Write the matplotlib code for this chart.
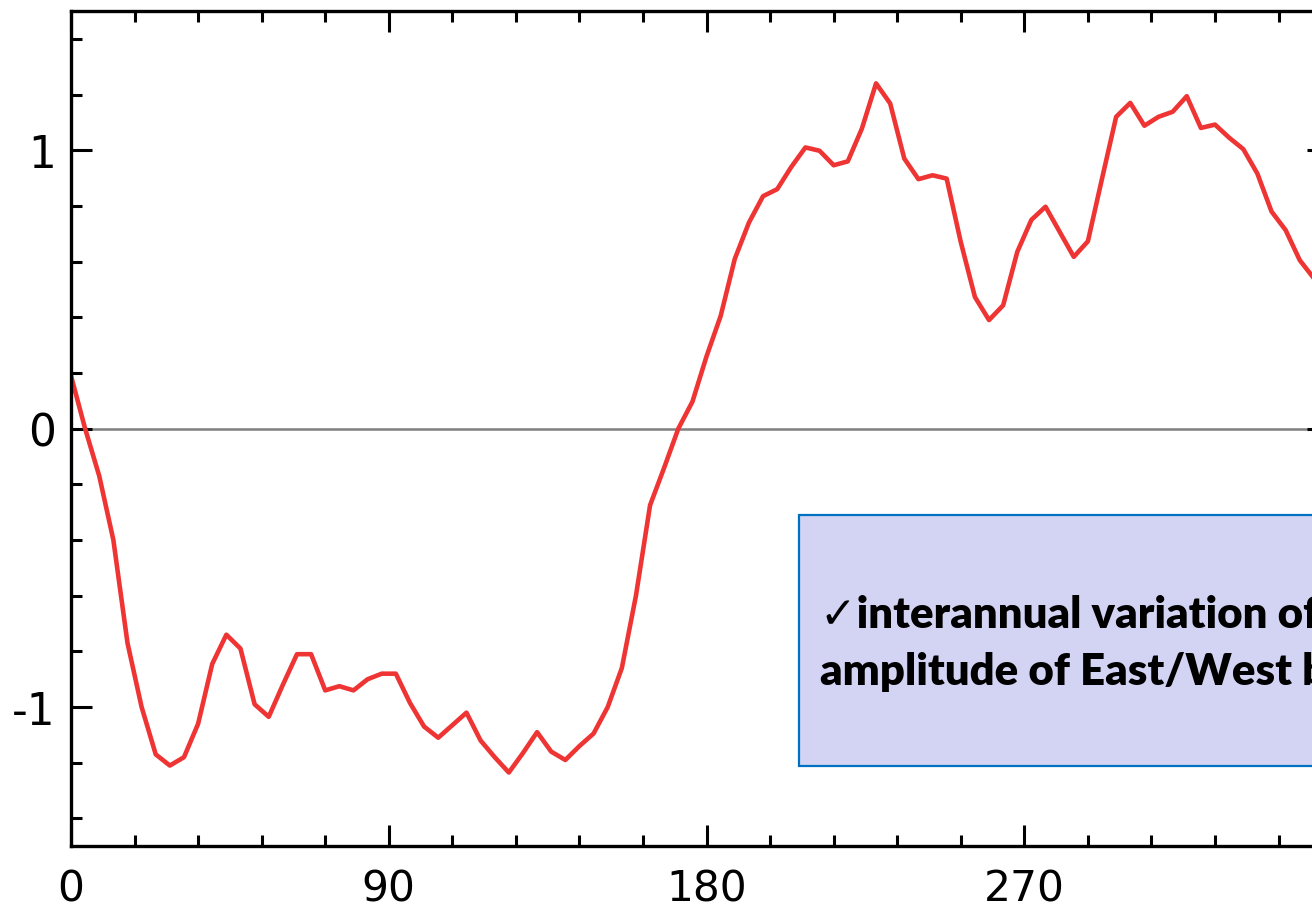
import matplotlib
matplotlib.use('Agg')
import matplotlib.pyplot as plt
from matplotlib.patches import Rectangle
from matplotlib.ticker import MultipleLocator
import numpy as np

# longitude (every 4 deg) and index values
lon = np.arange(0, 360, 4)
index = [0.19, 0.00, -0.17, -0.40, -0.77, -1.00, -1.17, -1.21, -1.18, -1.06,
         -0.845, -0.74, -0.79, -0.99, -1.035, -0.92, -0.81, -0.81, -0.94, -0.925,
         -0.94, -0.90, -0.88, -0.88, -0.985, -1.07, -1.11, -1.065, -1.02, -1.12,
         -1.18, -1.235, -1.165, -1.09, -1.16, -1.19, -1.14, -1.095, -1.00, -0.86,
         -0.60, -0.275, -0.14, 0.00, 0.097, 0.26, 0.405, 0.61, 0.74, 0.835,
         0.86, 0.94, 1.01, 0.998, 0.946, 0.96, 1.078, 1.24, 1.168, 0.97,
         0.896, 0.91, 0.898, 0.67, 0.473, 0.39, 0.443, 0.635, 0.75, 0.797,
         0.707, 0.617, 0.673, 0.898, 1.12, 1.17, 1.088, 1.12, 1.138, 1.194,
         1.08, 1.092, 1.045, 1.004, 0.916, 0.78, 0.713, 0.605, 0.54, 0.48]
xticks = [0, 90, 180, 270]
yticks = [-1, 0, 1]
note_lines = ['\u2713interannual variation of the', 'amplitude of East/West bias']

W, H = 1312, 912
fig = plt.figure(figsize=(W / 100, H / 100), dpi=100)
# axes runs off the right edge of the picture (cropped original)
x0, x1 = 71, 1328
y0, y1 = 847.3, 12
ax = fig.add_axes([x0 / W, 1 - y0 / H, (x1 - x0) / W, (y0 - y1) / H])

ax.axhline(0, color='#808080', lw=1.8, zorder=1)
ax.plot(lon, index, color='#EF3434', lw=3.3, zorder=2)

ax.set_xlim(0, 356)
ax.set_ylim(-1.5, 1.5)
ax.set_xticks(xticks)
ax.set_yticks(yticks)
ax.set_xticklabels([str(t) for t in xticks])
ax.set_yticklabels([str(t) for t in yticks])
ax.xaxis.set_minor_locator(MultipleLocator(18))
ax.yaxis.set_minor_locator(MultipleLocator(0.2))

for s in ax.spines.values():
    s.set_linewidth(2.4)
ax.tick_params(which='both', direction='in', top=True, right=True, width=2.2, colors='black')
ax.tick_params(which='major', length=15)
ax.tick_params(which='minor', length=8)
ax.tick_params(axis='x', which='major', pad=15, labelsize=30.5)
ax.tick_params(axis='y', which='major', pad=11, labelsize=31.5)

# annotation box
bx0, by0, by1 = 799, 767, 516
fig.patches.append(Rectangle((bx0 / W, 1 - by0 / H), 0.5, (by0 - by1) / H,
                             transform=fig.transFigure, facecolor='#D3D3F3',
                             edgecolor='#0070C0', lw=1.6, zorder=5))
fig.text(820 / W, 1 - 628 / H, note_lines[0], fontsize=31.5, fontweight='heavy',
         family=['Lato', 'DejaVu Sans'], va='baseline', ha='left', zorder=6)
fig.text(820 / W, 1 - 685 / H, note_lines[1], fontsize=31.5, fontweight='heavy',
         family=['Lato', 'DejaVu Sans'], va='baseline', ha='left', zorder=6)

fig.savefig('out.png', dpi=100)
